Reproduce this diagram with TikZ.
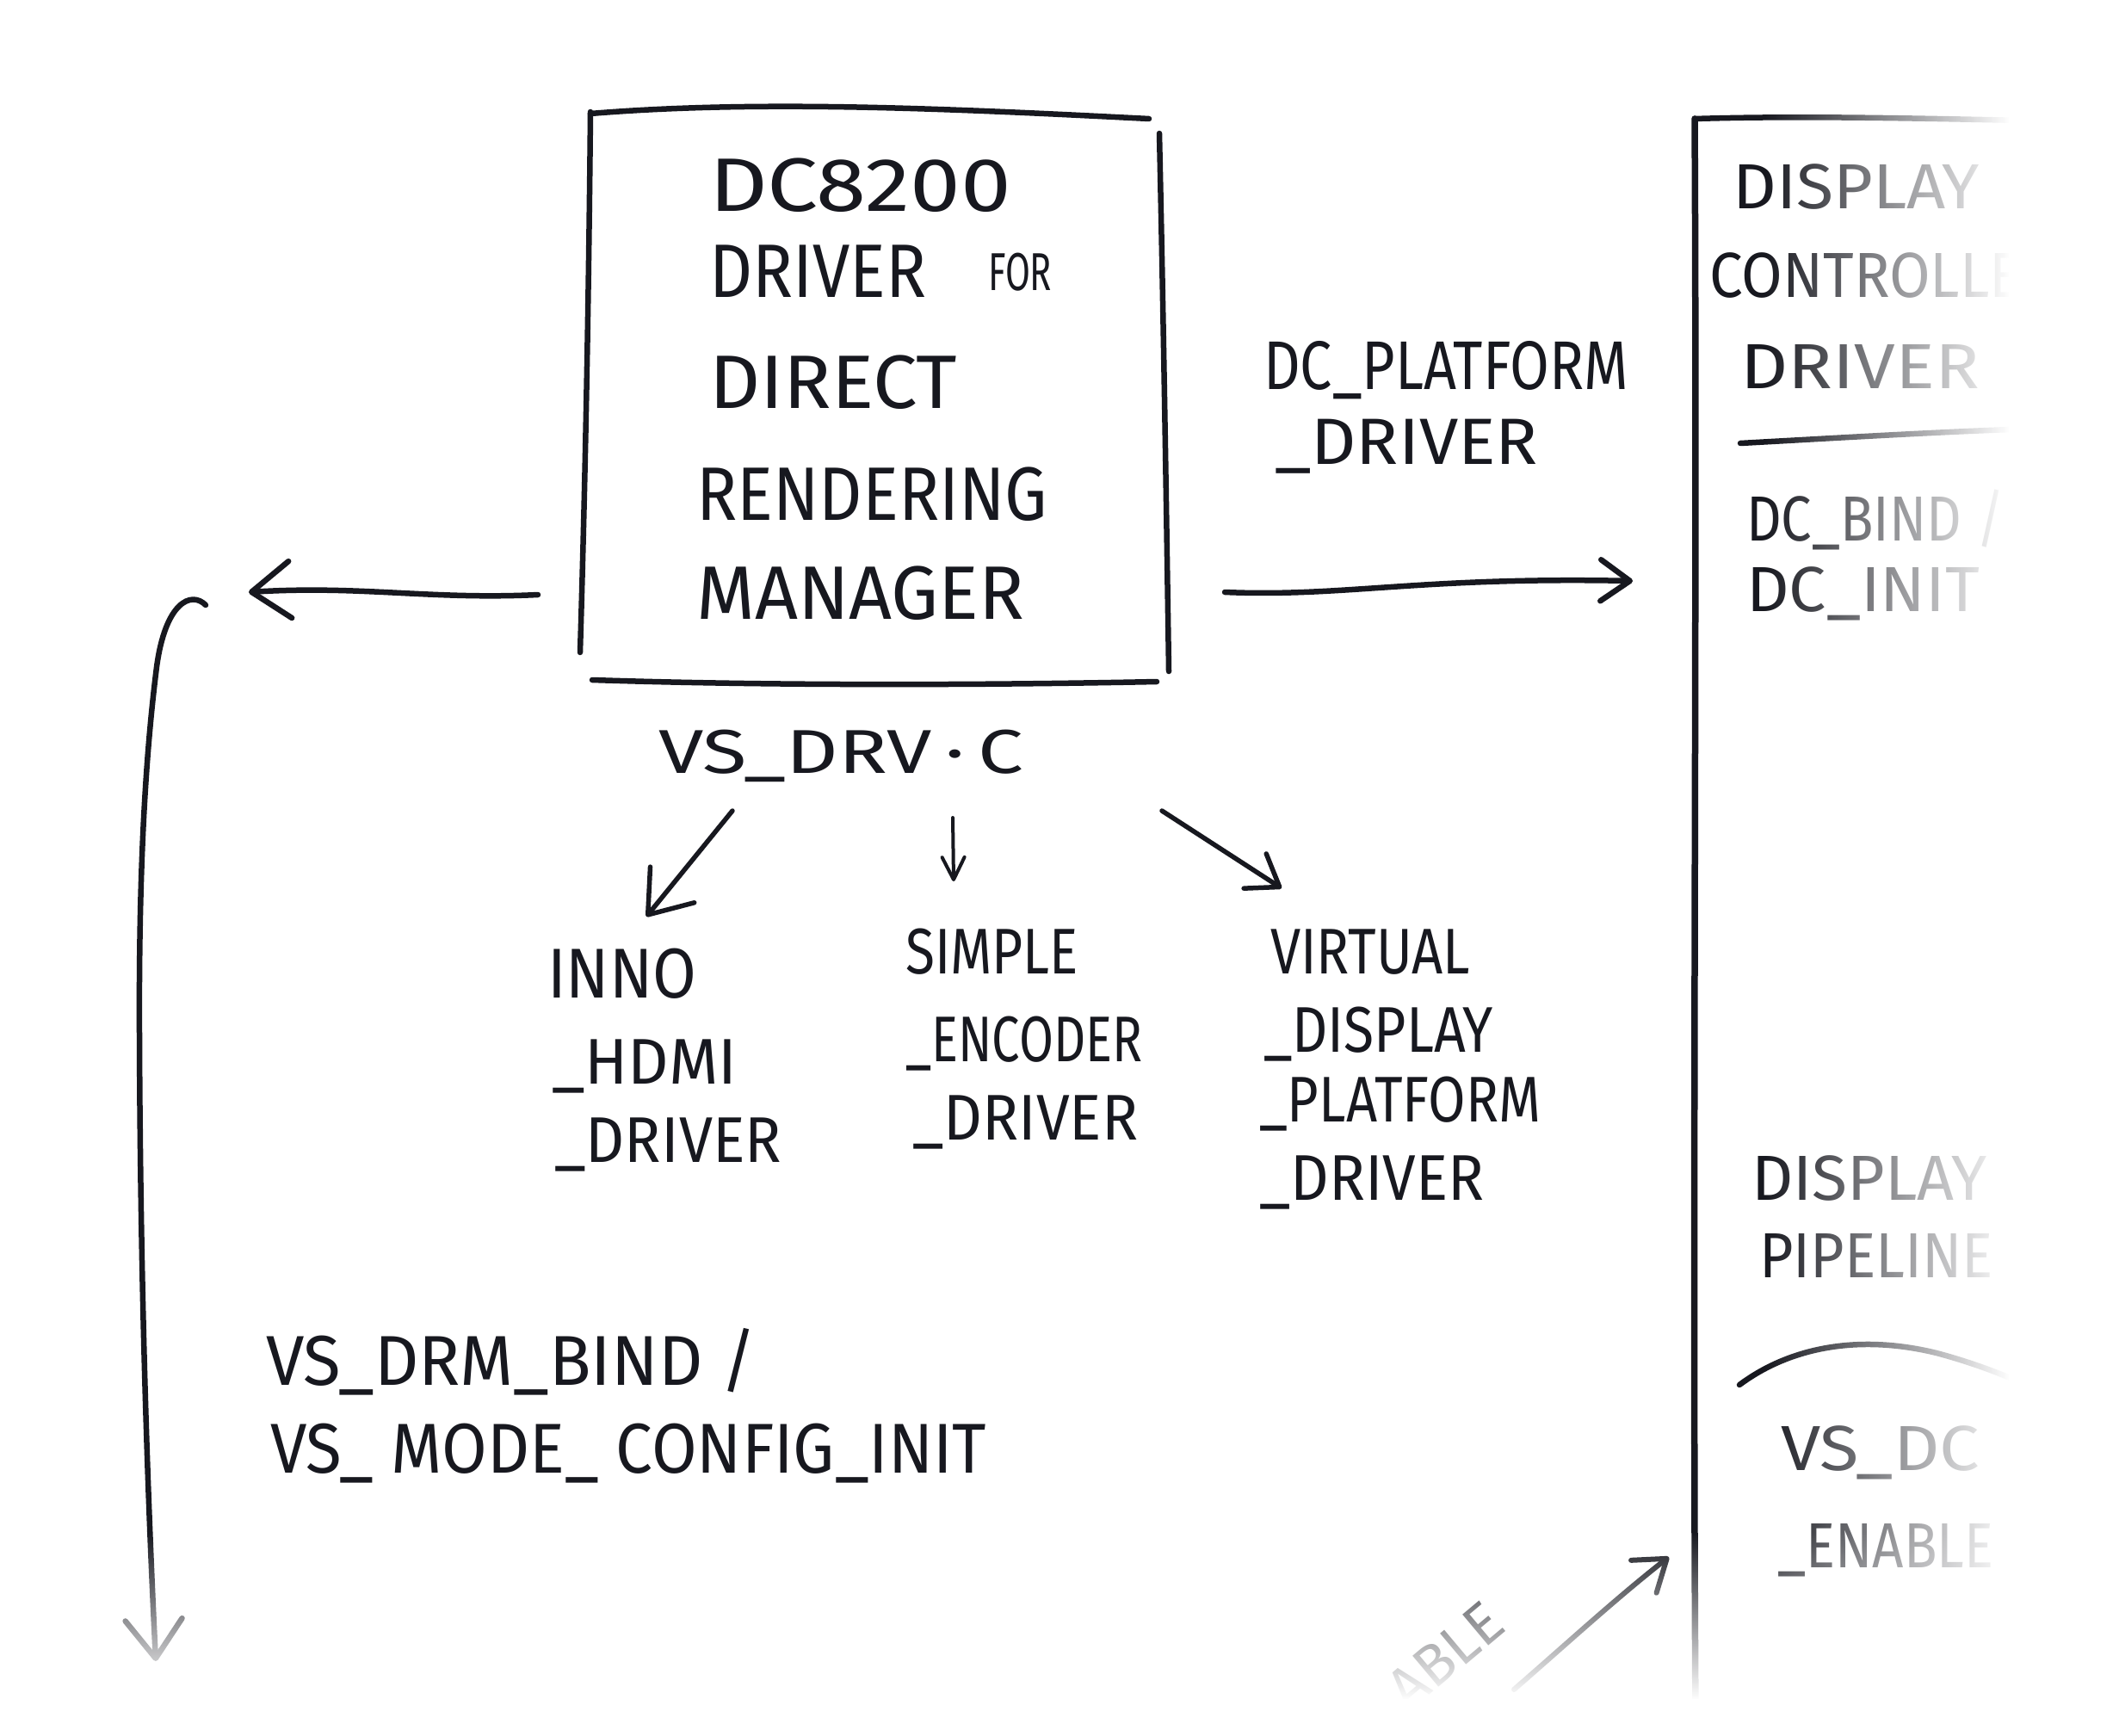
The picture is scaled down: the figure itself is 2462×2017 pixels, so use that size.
\documentclass[tikz,border=0pt]{standalone}
\usepackage{fontspec}
\usepackage{graphicx}
\usetikzlibrary{arrows.meta,fadings}
\newfontfamily\hand{Fira Sans}
\definecolor{ink}{HTML}{17181F}
\tikzfading[name=fadeR, left color=transparent!100, right color=transparent!0]
\tikzfading[name=fadeD, top color=transparent!100, bottom color=transparent!0]
\newcommand\fw[2]{\resizebox{#1pt}{\height}{#2}}
\tikzset{
  ln/.style={draw=ink, line width=6.5pt, line cap=round, line join=round},
  txt/.style={text=ink, inner sep=0pt, anchor=base west},
  fbox/.style={font=\hand\fontsize{88}{100}\selectfont},
  fsub/.style={font=\hand\fontsize{75}{90}\selectfont},
  fright/.style={font=\hand\fontsize{74}{90}\selectfont},
  tipbig/.style={-{Straight Barb[length=45pt,width=66pt,round]}},
  tipmid/.style={-{Straight Barb[length=34pt,width=48pt,round]}},
  tipsmall/.style={-{Straight Barb[length=26pt,width=26pt,round]}}
}
\begin{document}
\begin{tikzpicture}[x=1pt,y=-1pt]
\fill[white] (0,0) rectangle (2462,2017);
\useasboundingbox (0,0) rectangle (2462,2017);

% ---- main box (hand drawn strokes) ----
\node[minimum width=660pt, minimum height=650pt] (drm) at (1016,460) {};
\draw[ln] (686,132) .. controls (880,116) and (1100,126) .. (1335,138);
\draw[ln] (686,130) .. controls (684,350) and (680,560) .. (674,758);
\draw[ln] (1347,155) .. controls (1352,380) and (1355,580) .. (1358,780);
\draw[ln] (688,790) .. controls (900,797) and (1150,796) .. (1344,792);

\node[txt,fbox] (t1) at (824,246) {\fw{351}{DC8200}};
\node[txt,fbox] (t2) at (824,345) {\fw{252}{DRIVER}};
\node[txt,font=\hand\fontsize{62}{70}\selectfont] (t2b) at (1148,338) {\fw{74}{FOR}};
\node[txt,fbox] (t3) at (824,474) {\fw{288}{DIRECT}};
\node[txt,fbox] (t4) at (809,604) {\fw{408}{RENDERING}};
\node[txt,fbox] (t5) at (809,719) {\fw{381}{MANAGER}};

\node[txt,font=\hand\fontsize{72}{80}\selectfont] (vsdrv) at (765,898) {\fw{424}{VS\_DRV\,·\,C}};

\node[txt,font=\hand\fontsize{80}{90}\selectfont] (plat1) at (1468,452) {\fw{424}{DC\_PLATFORM}};
\node[txt,font=\hand\fontsize{76}{90}\selectfont] (plat2) at (1481,539) {\fw{306}{\_DRIVER}};

% ---- sub drivers ----
\node[txt,font=\hand\fontsize{82}{90}\selectfont] (inno1) at (636,1159) {\fw{173}{INNO}};
\node[txt,fsub] (inno2) at (641,1259) {\fw{215}{\_HDMI}};
\node[txt,fsub] (inno3) at (644,1350) {\fw{264}{\_DRIVER}};
\node[txt,fsub] (simp1) at (1052,1131) {\fw{201}{SIMPLE}};
\node[txt,fsub] (simp2) at (1052,1233) {\fw{275}{\_ENCODER}};
\node[txt,fsub] (simp3) at (1060,1324) {\fw{262}{\_DRIVER}};
\node[txt,fsub] (virt1) at (1476,1131) {\fw{232}{VIRTUAL}};
\node[txt,fsub] (virt2) at (1468,1222) {\fw{267}{\_DISPLAY}};
\node[txt,fsub] (virt3) at (1463,1303) {\fw{327}{\_PLATFORM}};
\node[txt,fsub] (virt4) at (1463,1394) {\fw{261}{\_DRIVER}};

% ---- bottom left ----
\node[txt,font=\hand\fontsize{82}{90}\selectfont] (bind) at (309,1609) {\fw{570}{VS\_DRM\_BIND /}};
\node[txt,font=\hand\fontsize{82}{90}\selectfont] (mode) at (314,1711) {\fw{832}{VS\_ MODE\_ CONFIG\_INIT}};

% ---- right box ----
\draw[ln, line width=7.5pt] (1969,138) .. controls (1972,700) and (1966,1400) .. (1970,1995);
\draw[ln] (1969,138) .. controls (2100,134) and (2250,138) .. (2400,141);
\draw[ln] (2022,515) .. controls (2150,508) and (2280,500) .. (2400,497);
\draw[ln] (2021,1609) .. controls (2080,1565) and (2160,1550) .. (2250,1572) .. controls (2310,1588) and (2360,1610) .. (2400,1632);

\node[txt,fright] (r1) at (2013,243) {\fw{287}{DISPLAY}};
\node[txt,fright] (r2) at (1986,345) {\fw{404}{CONTROLLER}};
\node[txt,fright] (r3) at (2022,451) {\fw{278}{DRIVER}};
\node[txt,fright] (r4) at (2029,628) {\fw{300}{DC\_BIND /}};
\node[txt,fright] (r5) at (2029,710) {\fw{271}{DC\_INIT}};
\node[txt,fright] (r6) at (2035,1394) {\fw{273}{DISPLAY}};
\node[txt,fright] (r7) at (2044,1484) {\fw{272}{PIPELINE}};
\node[txt,fright] (r8) at (2069,1708) {\fw{231}{VS\_DC}};
\node[txt,fright] (r9) at (2065,1821) {\fw{251}{\_ENABLE}};

\node[text=ink, inner sep=0pt, anchor=base east, rotate=40, font=\hand\fontsize{68}{70}\selectfont] (en) at (1752,1893) {ABLE};

% ---- connectors ----
\coordinate (aL1) at (625,691);
\coordinate (aL2) at (289,688);
\draw[ln,tipbig] (aL1) .. controls (500,697) and (420,680) .. (aL2);

\coordinate (aR1) at (1423,688);
\coordinate (aR2) at (1897,675);
\draw[ln,tipmid] (aR1) .. controls (1560,694) and (1650,670) .. (aR2);

\coordinate (d1a) at (851,942);
\coordinate (d1b) at (751,1065);
\draw[ln,tipbig,line width=5.5pt] (d1a) -- (d1b);

\coordinate (d2a) at (1107,950);
\coordinate (d2b) at (1108,1024);
\draw[ln,tipsmall,line width=4pt] (d2a) -- (d2b);

\coordinate (d3a) at (1350,942);
\coordinate (d3b) at (1489,1032);
\draw[ln,tipmid,line width=5.5pt] (d3a) -- (d3b);

\coordinate (lcs) at (239,703);
\coordinate (lce) at (181,1930);
\draw[ln,tipbig] (lcs) .. controls (222,686) and (192,700) .. (182,775)
   .. controls (170,870) and (161,1000) .. (162,1200)
   .. controls (163,1500) and (172,1750) .. (lce);

\coordinate (br1) at (1759,1963);
\coordinate (br2) at (1939,1809);
\draw[ln,tipmid,line width=6pt] (br1) .. controls (1820,1910) and (1880,1855) .. (br2);

% ---- fading of the photo edges ----
\fill[white, path fading=fadeR] (2050,0) rectangle (2335,2017);
\fill[white] (2334,0) rectangle (2462,2017);
\fill[white, path fading=fadeD] (0,1780) rectangle (2462,1975);
\fill[white] (0,1974) rectangle (2462,2017);
\end{tikzpicture}
\end{document}
